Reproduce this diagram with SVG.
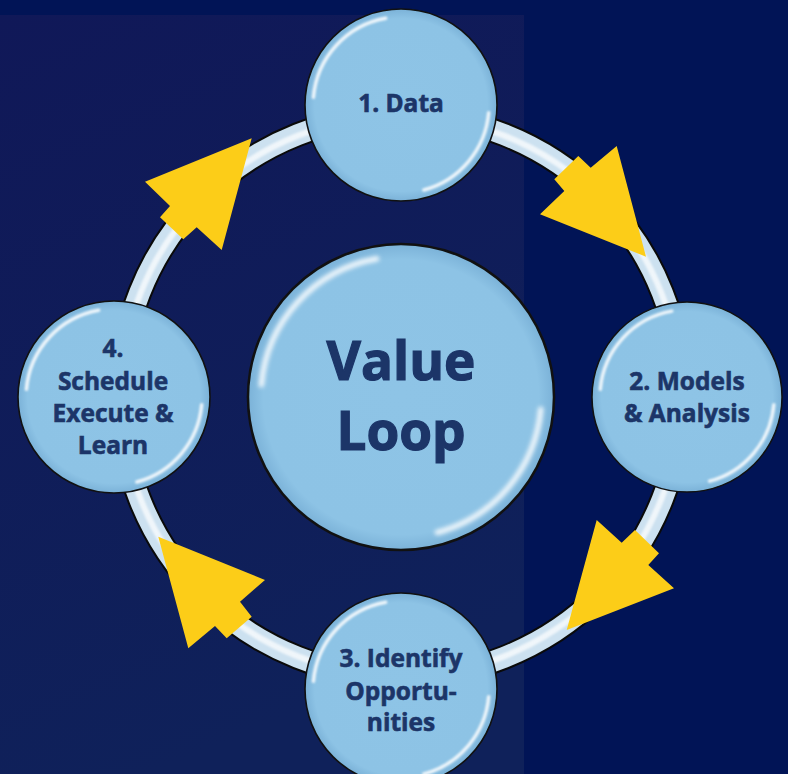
<svg xmlns="http://www.w3.org/2000/svg" xmlns:xlink="http://www.w3.org/1999/xlink" width="788" height="774" viewBox="0 0 788 774">
  <style>
    .label { font-family: "Open Sans", "Liberation Sans", sans-serif; font-weight: 700; fill: #1C3568; stroke: #1C3568; text-anchor: middle; }
    .small { font-size: 24.5px; stroke-width: 0.6px; }
    .big { font-size: 53px; stroke-width: 1.2px; }
    .arrow { fill: #FCCD18; }
  </style>
  <defs>
    <linearGradient id="panel" x1="0" y1="0" x2="0.3" y2="1">
      <stop offset="0" stop-color="#101858"/>
      <stop offset="1" stop-color="#0F215A"/>
    </linearGradient>
    <radialGradient id="bubbleFill" cx="0.5" cy="0.5" r="0.5">
      <stop offset="0" stop-color="#8EC4E6"/>
      <stop offset="0.9" stop-color="#8DC3E5"/>
      <stop offset="1" stop-color="#7BB2D8"/>
    </radialGradient>
    <filter id="soft" x="-20%" y="-20%" width="140%" height="140%">
      <feGaussianBlur stdDeviation="1.3"/>
    </filter>
    <!-- glossy bubble, radius 96, centred on the origin -->
    <g id="bubble">
      <circle r="96" fill="url(#bubbleFill)" stroke="#111111" stroke-width="1.6"/>
      <g fill="none" stroke="#FFFFFF" stroke-linecap="round" filter="url(#soft)" opacity="0.85">
        <path d="M -87.6 -7.7 A 88 88 0 0 1 -15.3 -86.7" stroke-width="3.5"/>
        <path d="M 87.7 7.7 A 88 88 0 0 1 22.8 85.0" stroke-width="3.5"/>
      </g>
    </g>
  </defs>

  <!-- backdrop -->
  <rect width="788" height="774" fill="#011456"/>
  <rect x="0" y="15" width="524" height="759" fill="url(#panel)"/>

  <!-- loop ring and direction arrows -->
  <g id="connectors">
    <circle cx="401" cy="396" r="281" fill="none" stroke="#0A0A0A" stroke-width="25"/>
    <circle cx="401" cy="396" r="281" fill="none" stroke="#CCE1F0" stroke-width="21"/>
    <circle cx="401" cy="396" r="280" fill="none" stroke="#FFFFFF" stroke-width="6" opacity="0.7" filter="url(#soft)"/>
    <polygon class="arrow" points="616.7,146 646,256.7 540,214.3 564.3,191 554.3,179.3 578.3,156 590.7,167.7"/>
    <polygon class="arrow" points="596.7,520 621.7,542.7 635,530 659,553.3 648.3,565 674,588.3 566.7,630"/>
    <polygon class="arrow" points="158.3,536.7 265,580 240,601.7 251.7,616.7 226.7,638.3 215,626 188.3,648.3"/>
    <polygon class="arrow" points="251.7,138.3 221.7,250 196.7,227.3 183.3,239.3 160,217.3 170,206 145,181.7"/>
  </g>

  <g id="node-center">
    <use xlink:href="#bubble" transform="translate(401 397) scale(1.594)"/>
    <text class="label big" x="401" y="380">Value</text>
    <text class="label big" x="401" y="450">Loop</text>
  </g>

  <g id="node-data">
    <use xlink:href="#bubble" transform="translate(401 105)"/>
    <text class="label small" x="401" y="112">1. Data</text>
  </g>

  <g id="node-models">
    <use xlink:href="#bubble" transform="translate(687 397) scale(0.99)"/>
    <text class="label small" x="687" y="390">2. Models</text>
    <text class="label small" x="687" y="422">&amp; Analysis</text>
  </g>

  <g id="node-identify">
    <use xlink:href="#bubble" transform="translate(401 689)"/>
    <text class="label small" x="401" y="667">3. Identify</text>
    <text class="label small" x="401" y="700">Opportu-</text>
    <text class="label small" x="401" y="731">nities</text>
  </g>

  <g id="node-schedule">
    <use xlink:href="#bubble" transform="translate(114 397)"/>
    <text class="label small" x="113" y="357">4.</text>
    <text class="label small" x="113" y="390">Schedule</text>
    <text class="label small" x="113" y="422">Execute &amp;</text>
    <text class="label small" x="113" y="454">Learn</text>
  </g>
</svg>
